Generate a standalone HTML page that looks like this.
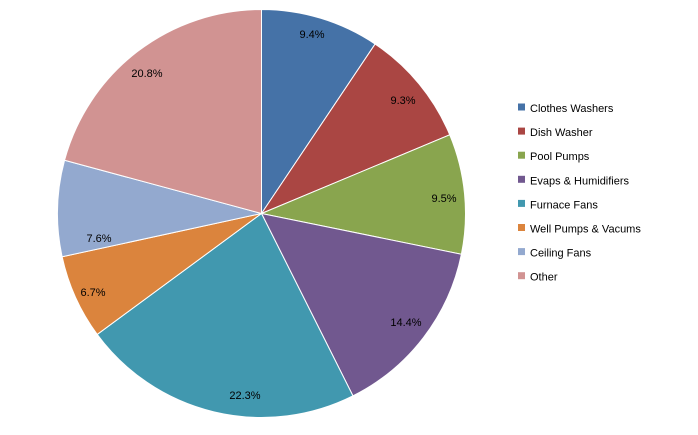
<!DOCTYPE html>
<html><head><meta charset="utf-8"><style>
body{margin:0;background:#fff;width:698px;height:430px;overflow:hidden}
svg text{font-family:"Liberation Sans",sans-serif;font-size:11px;fill:#000}
</style></head><body>
<svg id="s" width="698" height="430" xmlns="http://www.w3.org/2000/svg">
<g id="pie"></g>
<text x="312" y="38" text-anchor="middle">9.4%</text>
<text x="403" y="104" text-anchor="middle">9.3%</text>
<text x="444" y="202" text-anchor="middle">9.5%</text>
<text x="406" y="326" text-anchor="middle">14.4%</text>
<text x="245" y="399" text-anchor="middle">22.3%</text>
<text x="93" y="296" text-anchor="middle">6.7%</text>
<text x="99" y="242" text-anchor="middle">7.6%</text>
<text x="147" y="77" text-anchor="middle">20.8%</text>
<g id="leg"></g>
</svg>
<script>
var v=[9.4,9.3,9.5,14.4,22.3,6.7,7.6,20.8];
var c=["#4572A7","#AA4643","#89A54E","#71588F","#4198AF","#DB843D","#93A9CF","#D19392"];
var n=["Clothes Washers","Dish Washer","Pool Pumps","Evaps & Humidifiers","Furnace Fans","Well Pumps & Vacums","Ceiling Fans","Other"];
var cx=261.5,cy=213.5,r=204,a=0,h="",l="";
for(var i=0;i<v.length;i++){var b=a+v[i]/100*2*Math.PI;
var x1=cx+r*Math.sin(a),y1=cy-r*Math.cos(a),x2=cx+r*Math.sin(b),y2=cy-r*Math.cos(b);
h+='<path d="M'+cx+','+cy+'L'+x1+','+y1+'A'+r+','+r+' 0 '+(b-a>Math.PI?1:0)+' 1 '+x2+','+y2+'Z" fill="'+c[i]+'" stroke="#fff" stroke-width="1"/>';a=b;
var y=107.5+i*24.1;
l+='<rect x="518" y="'+(y-4)+'" width="7" height="7" fill="'+c[i]+'"/><text x="530" y="'+(y+4.5)+'">'+n[i].replace("&","&amp;")+'</text>';}
document.getElementById("pie").innerHTML=h;document.getElementById("leg").innerHTML=l;
</script>
</body></html>
